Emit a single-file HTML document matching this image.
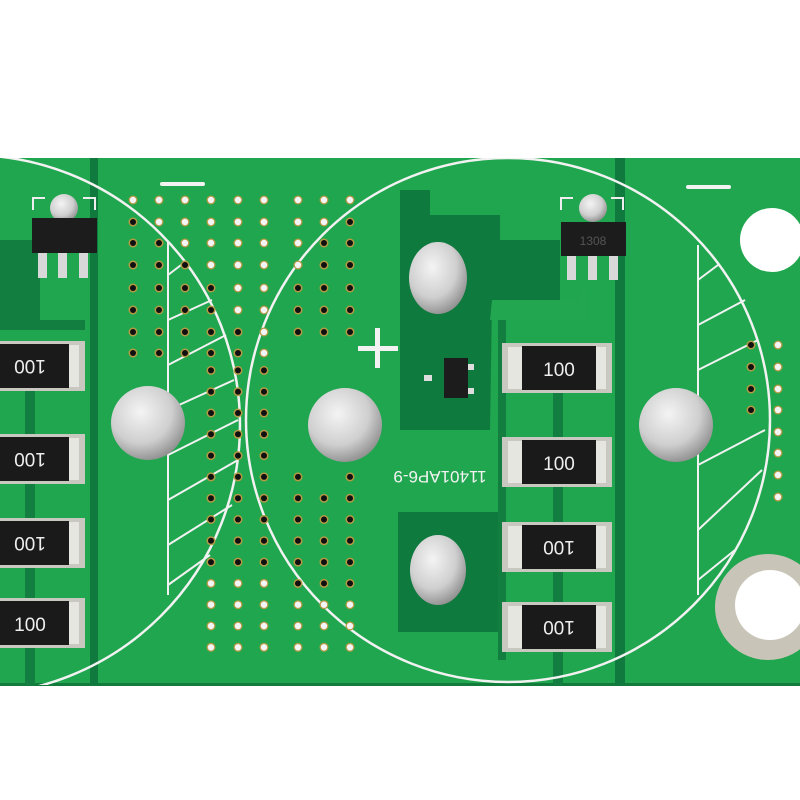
<!DOCTYPE html>
<html><head><meta charset="utf-8"><style>
html,body{margin:0;padding:0;background:#fff;}
svg{display:block}
text{font-family:"Liberation Sans",sans-serif;}
</style></head><body>
<svg width="800" height="800" viewBox="0 0 800 800" xmlns="http://www.w3.org/2000/svg">
<defs>
<radialGradient id="pad" cx="40%" cy="35%" r="70%">
<stop offset="0" stop-color="#f4f4f4"/><stop offset="0.6" stop-color="#cfcfcf"/><stop offset="1" stop-color="#8a8a8a"/>
</radialGradient>
<g id="via"><circle r="4.5" fill="#b59a45"/><circle r="3" fill="#101010"/></g>
<g id="viaL"><circle r="4.5" fill="#b59a45"/><circle r="3.2" fill="#f4f5f8"/></g>
<g id="resR">
<rect x="0" y="0" width="110" height="50" fill="#c8c8c0"/>
<rect x="6" y="4" width="98" height="42" fill="#e6e6e0"/>
<rect x="20" y="3" width="74" height="44" fill="#1a1a1a"/>
</g>
</defs>
<rect width="800" height="800" fill="#fff"/>
<rect x="0" y="158" width="800" height="527" fill="#20a64e"/>
<rect x="0" y="683" width="800" height="3" fill="#127a3a"/>
<rect x="90" y="158" width="8" height="527" fill="#10793d"/>
<rect x="0" y="240" width="40" height="80" fill="#127f40"/>
<path d="M0 320 L85 320 L85 330 L0 330Z" fill="#127f40"/>
<path d="M400 190 L430 190 L430 215 L500 215 L500 240 L560 240 L560 300 L492 300 L490 430 L400 430Z" fill="#0f7a3e"/>
<rect x="398" y="512" width="102" height="120" fill="#0f7a3e"/>
<rect x="615" y="158" width="10" height="527" fill="#10793d"/>
<rect x="553" y="390" width="10" height="295" fill="#127f40"/>
<rect x="25" y="390" width="10" height="295" fill="#127f40"/>
<rect x="498" y="320" width="8" height="340" fill="#127f40"/>
<path d="M490 320 L492 300 L580 300 L580 290 L587 290 L587 320Z" fill="#22a650"/>
<clipPath id="board"><rect x="0" y="158" width="800" height="527"/></clipPath>
<g clip-path="url(#board)">
<circle cx="-30" cy="425" r="270" fill="none" stroke="#f2f2f2" stroke-width="2.5"/>
<circle cx="508" cy="420" r="262" fill="none" stroke="#f2f2f2" stroke-width="2.5"/>
</g>
<g stroke="#f2f2f2" stroke-width="2" fill="none">
<line x1="168" y1="242" x2="168" y2="595"/>
<line x1="168" y1="275" x2="185" y2="262"/>
<line x1="168" y1="320" x2="212" y2="300"/>
<line x1="168" y1="365" x2="226" y2="335"/>
<line x1="168" y1="410" x2="234" y2="380"/>
<line x1="168" y1="455" x2="238" y2="420"/>
<line x1="168" y1="500" x2="238" y2="460"/>
<line x1="168" y1="545" x2="232" y2="505"/>
<line x1="168" y1="585" x2="210" y2="555"/>
<line x1="698" y1="245" x2="698" y2="595"/>
<line x1="698" y1="280" x2="718" y2="265"/>
<line x1="698" y1="325" x2="745" y2="300"/>
<line x1="698" y1="370" x2="758" y2="340"/>
<line x1="698" y1="465" x2="765" y2="430"/>
<line x1="698" y1="530" x2="762" y2="470"/>
<line x1="698" y1="580" x2="735" y2="550"/>
</g>
<rect x="160" y="182" width="45" height="4" rx="2" fill="#f2f2f2"/>
<rect x="686" y="185" width="45" height="4" rx="2" fill="#f2f2f2"/>
<rect x="358" y="346" width="40" height="5" fill="#f2f2f2"/>
<rect x="375" y="328" width="5" height="40" fill="#f2f2f2"/>
<text x="440" y="483" font-size="17" fill="#f2f2f2" text-anchor="middle" transform="rotate(180 440 477)">11401AP6-9</text>
<ellipse cx="148" cy="423" rx="37" ry="37" fill="url(#pad)"/>
<ellipse cx="345" cy="425" rx="37" ry="37" fill="url(#pad)"/>
<ellipse cx="676" cy="425" rx="37" ry="37" fill="url(#pad)"/>
<ellipse cx="438" cy="278" rx="29" ry="36" fill="url(#pad)"/>
<ellipse cx="438" cy="570" rx="28" ry="35" fill="url(#pad)"/>
<circle cx="772" cy="240" r="32" fill="#fff"/>
<circle cx="768" cy="607" r="53" fill="#c9c4b8"/>
<circle cx="770" cy="605" r="35" fill="#fff"/>
<g>
<path d="M33 210 V198 H45 M83 198 H95 V210" stroke="#eee" stroke-width="2" fill="none"/>
<circle cx="64" cy="208" r="14" fill="url(#pad)"/>
<rect x="32" y="218" width="65" height="35" fill="#1c1c1c"/>
<rect x="38" y="253" width="9" height="25" fill="#d8d8d8"/>
<rect x="58" y="253" width="9" height="25" fill="#d8d8d8"/>
<rect x="79" y="253" width="9" height="25" fill="#d8d8d8"/>
</g>
<g>
<path d="M561 210 V198 H573 M611 198 H623 V210" stroke="#eee" stroke-width="2" fill="none"/>
<circle cx="593" cy="208" r="14" fill="url(#pad)"/>
<rect x="561" y="222" width="65" height="34" fill="#1c1c1c"/>
<text x="593" y="245" font-size="12" fill="#555" text-anchor="middle">1308</text>
<rect x="567" y="256" width="9" height="24" fill="#d8d8d8"/>
<rect x="588" y="256" width="9" height="24" fill="#d8d8d8"/>
<rect x="609" y="256" width="9" height="24" fill="#d8d8d8"/>
</g>
<rect x="424" y="375" width="8" height="6" fill="#ddd"/>
<rect x="466" y="364" width="8" height="6" fill="#ddd"/>
<rect x="466" y="388" width="8" height="6" fill="#ddd"/>
<rect x="444" y="358" width="24" height="40" fill="#1c1c1c"/>
<g>
<use href="#resR" x="502" y="343"/><text x="559" y="376" font-size="19" fill="#eee" text-anchor="middle">100</text>
<use href="#resR" x="502" y="437"/><text x="559" y="470" font-size="19" fill="#eee" text-anchor="middle">100</text>
<use href="#resR" x="502" y="522"/><text x="559" y="555" font-size="19" fill="#eee" text-anchor="middle" transform="rotate(180 559 548)">100</text>
<use href="#resR" x="502" y="602"/><text x="559" y="635" font-size="19" fill="#eee" text-anchor="middle" transform="rotate(180 559 628)">100</text>
</g>
<g>
<use href="#resR" x="-25" y="341"/><text x="30" y="374" font-size="19" fill="#eee" text-anchor="middle" transform="rotate(180 30 367)">100</text>
<use href="#resR" x="-25" y="434"/><text x="30" y="467" font-size="19" fill="#eee" text-anchor="middle" transform="rotate(180 30 460)">100</text>
<use href="#resR" x="-25" y="518"/><text x="30" y="551" font-size="19" fill="#eee" text-anchor="middle" transform="rotate(180 30 544)">100</text>
<use href="#resR" x="-25" y="598"/><text x="30" y="631" font-size="19" fill="#eee" text-anchor="middle">100</text>
</g>
<g>
<use href="#viaL" x="133" y="200"/><use href="#viaL" x="159" y="200"/><use href="#viaL" x="185" y="200"/><use href="#viaL" x="211" y="200"/><use href="#viaL" x="238" y="200"/><use href="#viaL" x="264" y="200"/><use href="#viaL" x="298" y="200"/><use href="#viaL" x="324" y="200"/><use href="#viaL" x="350" y="200"/>
<use href="#via" x="133" y="222"/><use href="#viaL" x="159" y="222"/><use href="#viaL" x="185" y="222"/><use href="#viaL" x="211" y="222"/><use href="#viaL" x="238" y="222"/><use href="#viaL" x="264" y="222"/><use href="#viaL" x="298" y="222"/><use href="#viaL" x="324" y="222"/><use href="#via" x="350" y="222"/>
<use href="#via" x="133" y="243"/><use href="#via" x="159" y="243"/><use href="#viaL" x="185" y="243"/><use href="#viaL" x="211" y="243"/><use href="#viaL" x="238" y="243"/><use href="#viaL" x="264" y="243"/><use href="#viaL" x="298" y="243"/><use href="#via" x="324" y="243"/><use href="#via" x="350" y="243"/>
<use href="#via" x="133" y="265"/><use href="#via" x="159" y="265"/><use href="#via" x="185" y="265"/><use href="#viaL" x="211" y="265"/><use href="#viaL" x="238" y="265"/><use href="#viaL" x="264" y="265"/><use href="#viaL" x="298" y="265"/><use href="#via" x="324" y="265"/><use href="#via" x="350" y="265"/>
<use href="#via" x="133" y="288"/><use href="#via" x="159" y="288"/><use href="#via" x="185" y="288"/><use href="#via" x="211" y="288"/><use href="#viaL" x="238" y="288"/><use href="#viaL" x="264" y="288"/><use href="#via" x="298" y="288"/><use href="#via" x="324" y="288"/><use href="#via" x="350" y="288"/>
<use href="#via" x="133" y="310"/><use href="#via" x="159" y="310"/><use href="#via" x="185" y="310"/><use href="#via" x="211" y="310"/><use href="#viaL" x="238" y="310"/><use href="#viaL" x="264" y="310"/><use href="#via" x="298" y="310"/><use href="#via" x="324" y="310"/><use href="#via" x="350" y="310"/>
<use href="#via" x="133" y="332"/><use href="#via" x="159" y="332"/><use href="#via" x="185" y="332"/><use href="#via" x="211" y="332"/><use href="#via" x="238" y="332"/><use href="#viaL" x="264" y="332"/><use href="#via" x="298" y="332"/><use href="#via" x="324" y="332"/><use href="#via" x="350" y="332"/>
<use href="#via" x="133" y="353"/><use href="#via" x="159" y="353"/><use href="#via" x="185" y="353"/><use href="#via" x="211" y="353"/><use href="#via" x="238" y="353"/><use href="#viaL" x="264" y="353"/>
</g>
<g id="midvias"></g>
<script>
(function(){
var g=document.getElementById('midvias'),ns='http://www.w3.org/2000/svg';
function add(x,y,l){var u=document.createElementNS(ns,'use');u.setAttribute('href',l?'#viaL':'#via');u.setAttribute('x',x);u.setAttribute('y',y);g.appendChild(u);}
for(var r=8;r<22;r++){var y=200+r*21.3;
[211,238,264].forEach(function(x){add(x,y,r>=18);});
if(y>470){[298,324,350].forEach(function(x){if(!(x==324&&r==13))add(x,y,r>=19);});}
}
[[751,345],[751,367],[751,389],[751,410],[778,345],[778,367],[778,389],[778,410],[778,432],[778,453],[778,475],[778,497]].forEach(function(p){add(p[0],p[1],p[0]>760);});
})();
</script>
</svg>
</body></html>
